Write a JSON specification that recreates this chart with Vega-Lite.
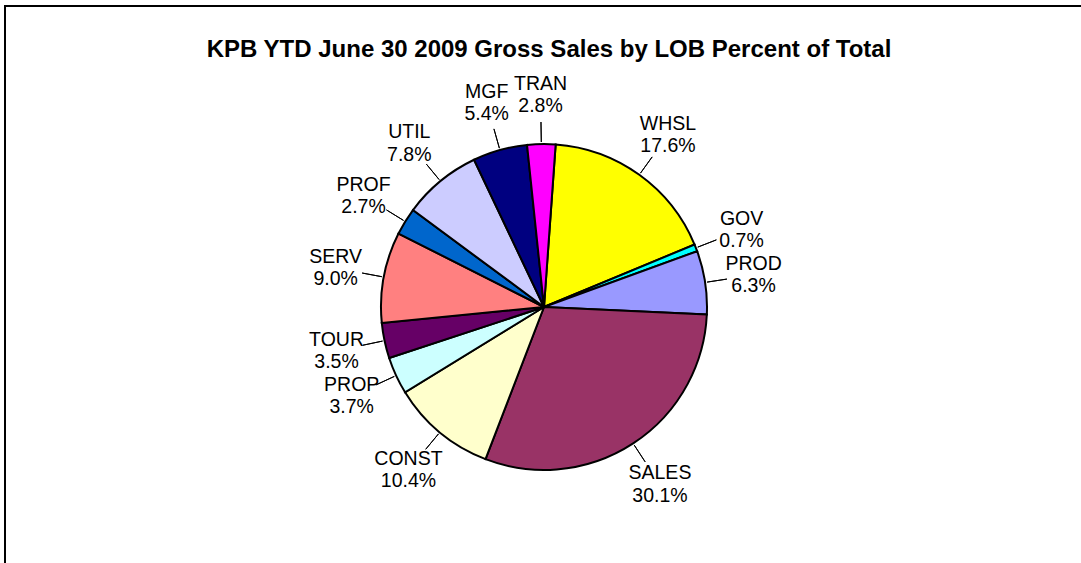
{
  "$schema": "https://vega.github.io/schema/vega-lite/v6.json",
  "width": 1078,
  "height": 602,
  "autosize": "none",
  "padding": {"left": 5, "top": 6, "right": 0, "bottom": 0},
  "background": "white",
  "config": {"view": {"stroke": null}, "font": "Liberation Sans"},
  "title": {
    "text": "KPB YTD June 30 2009 Gross Sales by LOB Percent of Total",
    "font": "Liberation Sans",
    "fontSize": 24,
    "fontWeight": "bold",
    "color": "black",
    "anchor": "middle",
    "frame": "group",
    "offset": -76,
    "baseline": "alphabetic",
    "dx": 5
  },
  "data": {
    "values": [
      {"idx": 1, "lob": "WHSL", "share": 0.176},
      {"idx": 2, "lob": "GOV", "share": 0.007},
      {"idx": 3, "lob": "PROD", "share": 0.063},
      {"idx": 4, "lob": "SALES", "share": 0.301},
      {"idx": 5, "lob": "CONST", "share": 0.104},
      {"idx": 6, "lob": "PROP", "share": 0.037},
      {"idx": 7, "lob": "TOUR", "share": 0.035},
      {"idx": 8, "lob": "SERV", "share": 0.090},
      {"idx": 9, "lob": "PROF", "share": 0.027},
      {"idx": 10, "lob": "UTIL", "share": 0.078},
      {"idx": 11, "lob": "MGF", "share": 0.054},
      {"idx": 12, "lob": "TRAN", "share": 0.028}
    ]
  },
  "layer": [
    {
      "mark": {"type": "rect", "fill": null, "fillOpacity": 0, "stroke": "black", "strokeWidth": 2},
      "encoding": {}
    },
    {
      "mark": {"type": "arc", "radius": 163, "stroke": "black", "strokeWidth": 2},
      "encoding": {
        "theta": {"field": "share", "type": "quantitative", "stack": true, "scale": {"range": [0.0716, 6.3548]}},
        "order": {"field": "idx", "type": "quantitative"},
        "color": {
          "field": "lob",
          "type": "nominal",
          "legend": null,
          "scale": {
            "domain": ["WHSL", "GOV", "PROD", "SALES", "CONST", "PROP", "TOUR", "SERV", "PROF", "UTIL", "MGF", "TRAN"],
            "range": ["#FFFF00", "#00FFFF", "#9999FF", "#993366", "#FFFFCC", "#CCFFFF", "#660066", "#FF8080", "#0066CC", "#CCCCFF", "#000080", "#FF00FF"]
          }
        }
      }
    },
    {
      "mark": {"type": "arc", "radius": 185, "radius2": 165, "padAngle": 3, "fillOpacity": 0, "stroke": "black", "strokeWidth": 1},
      "encoding": {
        "theta": {"field": "share", "type": "quantitative", "stack": true},
        "order": {"field": "idx", "type": "quantitative"},
        "detail": {"field": "lob", "type": "nominal"}
      }
    },
    {
      "mark": {"type": "text", "radius": 212, "fontSize": 19.5, "font": "Liberation Sans", "color": "black", "dy": -11.25, "baseline": "middle", "align": "center"},
      "encoding": {
        "theta": {"field": "share", "type": "quantitative", "stack": true},
        "order": {"field": "idx", "type": "quantitative"},
        "detail": {"field": "lob", "type": "nominal"},
        "text": {"field": "lob", "type": "nominal"}
      }
    },
    {
      "mark": {"type": "text", "radius": 212, "fontSize": 19.5, "font": "Liberation Sans", "color": "black", "dy": 11.25, "baseline": "middle", "align": "center"},
      "encoding": {
        "theta": {"field": "share", "type": "quantitative", "stack": true},
        "order": {"field": "idx", "type": "quantitative"},
        "detail": {"field": "lob", "type": "nominal"},
        "text": {"field": "share", "type": "quantitative", "format": ".1%"}
      }
    }
  ]
}
